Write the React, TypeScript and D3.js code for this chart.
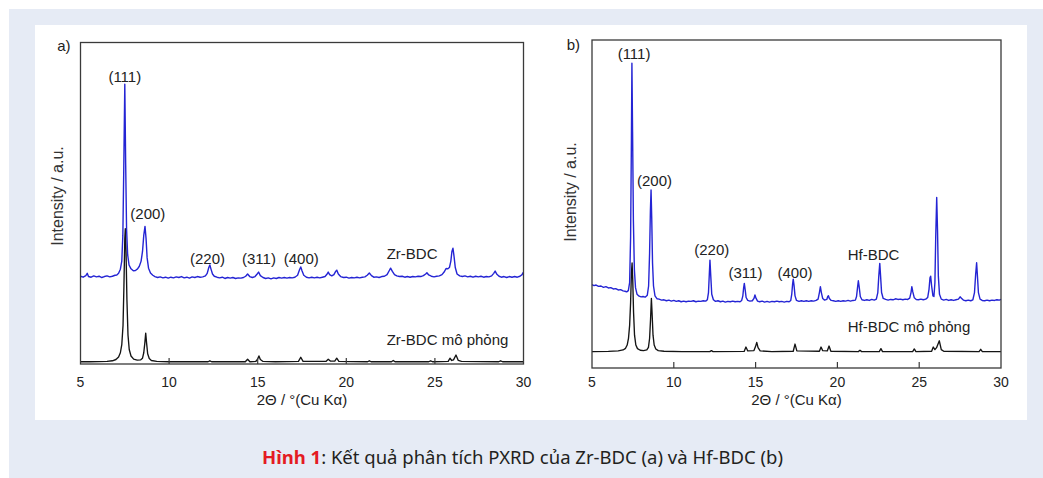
import React from "react";
import * as d3 from "d3";

// ---------- DATA ----------
const xTicks = [5, 10, 15, 20, 25, 30];

// Zr-BDC experimental (2θ, intensity a.u.)
const zrExp: [number, number][] = [
  [5.0, 27.3], [5.15, 27.0], [5.3, 27.5], [5.38, 28.2], [5.45, 27.2], [5.6, 27.0], [5.75, 27.4], [5.9, 27.1],
  [6.05, 27.3], [6.2, 26.9], [6.35, 27.2], [6.5, 27.4], [6.65, 27.1], [6.8, 27.3], [6.95, 27.6], [7.05, 27.7],
  [7.15, 28.2], [7.25, 29.5], [7.33, 32], [7.39, 40], [7.44, 60], [7.5, 87], [7.55, 62], [7.6, 42],
  [7.66, 34], [7.74, 30.8], [7.85, 29.6], [7.98, 29.0], [8.1, 29.1], [8.22, 29.6], [8.32, 30.4], [8.42, 32],
  [8.5, 35], [8.57, 40], [8.64, 42.8], [8.7, 39], [8.76, 33], [8.84, 29.8], [8.95, 28.3], [9.08, 27.6],
  [9.2, 27.2], [9.35, 26.9], [9.5, 27.1], [9.65, 26.8], [9.8, 27.0], [9.95, 26.7], [10.1, 27.0], [10.25, 26.8],
  [10.4, 27.1], [10.55, 26.9], [10.7, 27.2], [10.85, 26.8], [11.0, 27.0], [11.15, 26.7], [11.3, 27.1], [11.45, 26.9],
  [11.6, 27.2], [11.75, 27.0], [11.9, 27.1], [12.05, 27.4], [12.15, 28.2], [12.24, 30.0], [12.3, 30.8], [12.36, 29.6],
  [12.45, 28.0], [12.55, 27.3], [12.7, 27.0], [12.85, 26.8], [13.0, 27.0], [13.15, 26.6], [13.3, 26.9], [13.45, 26.7],
  [13.6, 26.9], [13.75, 26.6], [13.9, 26.8], [14.05, 26.7], [14.2, 26.9], [14.32, 27.3], [14.43, 28.0], [14.55, 27.2],
  [14.7, 26.9], [14.85, 27.2], [14.97, 28.0], [15.05, 28.6], [15.15, 27.5], [15.3, 26.9], [15.45, 26.6], [15.6, 26.8],
  [15.75, 26.5], [15.9, 26.8], [16.05, 26.6], [16.2, 26.9], [16.35, 26.7], [16.5, 26.9], [16.65, 26.7], [16.8, 26.9],
  [16.95, 26.8], [17.1, 27.0], [17.25, 27.6], [17.36, 29.3], [17.43, 30.2], [17.5, 29.0], [17.6, 27.6], [17.75, 27.0],
  [17.9, 26.8], [18.05, 27.0], [18.2, 26.8], [18.35, 27.0], [18.5, 26.8], [18.65, 27.0], [18.8, 27.2], [18.92, 28.0],
  [18.98, 28.6], [19.06, 27.8], [19.18, 27.4], [19.3, 27.8], [19.4, 28.8], [19.46, 29.2], [19.55, 28.0], [19.68, 27.2],
  [19.85, 26.9], [20.0, 27.0], [20.15, 26.7], [20.3, 26.9], [20.45, 26.8], [20.6, 27.0], [20.75, 26.8], [20.9, 27.0],
  [21.05, 27.1], [21.18, 27.6], [21.3, 28.3], [21.42, 27.5], [21.55, 27.0], [21.7, 27.1], [21.85, 26.9], [22.0, 27.2],
  [22.15, 27.3], [22.3, 27.8], [22.42, 29.0], [22.5, 29.8], [22.6, 28.8], [22.72, 27.8], [22.85, 27.4], [23.0, 27.2],
  [23.15, 27.3], [23.3, 27.0], [23.45, 27.2], [23.6, 27.0], [23.75, 27.2], [23.9, 27.1], [24.05, 27.3], [24.2, 27.2],
  [24.35, 27.5], [24.48, 28.0], [24.55, 28.4], [24.65, 27.7], [24.8, 27.3], [24.95, 27.1], [25.1, 27.3], [25.25, 27.4],
  [25.4, 27.8], [25.52, 28.6], [25.63, 29.7], [25.72, 29.6], [25.82, 30.0], [25.9, 32.0], [25.96, 35.0], [26.02, 36.0],
  [26.08, 33.5], [26.15, 30.0], [26.25, 28.0], [26.4, 27.4], [26.55, 27.2], [26.7, 27.4], [26.85, 27.1], [27.0, 27.3],
  [27.15, 27.0], [27.3, 27.3], [27.45, 27.1], [27.6, 27.3], [27.75, 27.0], [27.9, 27.2], [28.05, 27.1], [28.2, 27.4],
  [28.32, 28.2], [28.4, 28.9], [28.5, 27.9], [28.62, 27.3], [28.75, 27.0], [28.9, 27.2], [29.05, 26.9], [29.2, 27.2],
  [29.35, 27.0], [29.5, 27.2], [29.65, 27.0], [29.8, 27.3], [29.92, 27.8], [29.97, 28.4], [30.0, 28.0],
];

// Zr-BDC simulated
const zrSim: [number, number][] = [
  [5.0, 0.7], [5.5, 0.7], [6.0, 0.75], [6.5, 0.8], [6.8, 1.0], [7.0, 1.4], [7.15, 2.2], [7.25, 3.5],
  [7.33, 6.0], [7.4, 12.0], [7.45, 24.0], [7.5, 39.0], [7.53, 42.1], [7.57, 35.0], [7.62, 20.0], [7.68, 9.0],
  [7.75, 4.5], [7.85, 2.5], [8.0, 1.5], [8.2, 1.2], [8.4, 1.3], [8.5, 1.8], [8.57, 3.5], [8.63, 6.5],
  [8.68, 9.6], [8.73, 6.5], [8.79, 3.2], [8.88, 1.7], [9.0, 1.1], [9.3, 0.8], [10.0, 0.7], [11.0, 0.7],
  [12.2, 0.7], [12.3, 1.0], [12.4, 0.7], [14.3, 0.7], [14.43, 1.5], [14.56, 0.7], [14.9, 0.8], [15.0, 1.6],
  [15.07, 2.5], [15.15, 1.4], [15.3, 0.8], [16.0, 0.7], [17.3, 0.8], [17.43, 2.1], [17.56, 0.8], [18.85, 0.8],
  [18.98, 1.5], [19.1, 0.9], [19.35, 0.9], [19.46, 1.8], [19.58, 0.8], [21.2, 0.7], [21.3, 1.0], [21.4, 0.7],
  [22.55, 0.7], [22.65, 1.1], [22.75, 0.7], [24.65, 0.7], [24.76, 1.0], [24.87, 0.7], [25.75, 0.8], [25.85, 1.8],
  [25.95, 1.1], [26.05, 1.3], [26.19, 2.8], [26.32, 1.1], [26.5, 0.8], [28.6, 0.7], [28.71, 1.0], [28.82, 0.7],
  [30.0, 0.7],
];

// Hf-BDC experimental
const hfExp: [number, number][] = [
  [5.0, 25.4], [5.12, 25.1], [5.25, 25.3], [5.4, 24.9], [5.55, 25.0], [5.7, 24.6], [5.85, 24.8], [6.0, 24.4],
  [6.15, 24.5], [6.3, 24.1], [6.45, 24.2], [6.6, 23.8], [6.75, 23.9], [6.9, 23.5], [7.02, 23.4], [7.12, 23.2],
  [7.22, 23.6], [7.3, 26], [7.36, 40], [7.41, 70], [7.44, 92.9], [7.48, 72], [7.53, 45], [7.59, 30],
  [7.66, 24.5], [7.75, 22.5], [7.88, 21.9], [8.0, 21.7], [8.12, 21.8], [8.25, 21.6], [8.38, 22.2], [8.46, 25],
  [8.52, 35], [8.57, 48], [8.61, 54.3], [8.65, 46], [8.7, 32], [8.76, 25], [8.85, 22], [8.98, 21.1],
  [9.1, 21.0], [9.25, 20.7], [9.4, 20.8], [9.55, 20.5], [9.7, 20.7], [9.85, 20.4], [10.0, 20.6], [10.15, 20.3],
  [10.3, 20.5], [10.45, 20.2], [10.6, 20.4], [10.75, 20.2], [10.9, 20.4], [11.05, 20.3], [11.2, 20.5], [11.35, 20.2],
  [11.5, 20.4], [11.65, 20.3], [11.8, 20.5], [11.95, 20.4], [12.05, 20.8], [12.12, 23], [12.17, 28.5], [12.21, 32.9],
  [12.26, 28], [12.32, 22.5], [12.42, 20.8], [12.55, 20.3], [12.7, 20.5], [12.85, 20.2], [13.0, 20.4], [13.15, 20.1],
  [13.3, 20.3], [13.45, 20.2], [13.6, 20.4], [13.75, 20.2], [13.9, 20.3], [14.05, 20.2], [14.15, 20.6], [14.22, 22.0],
  [14.27, 24.5], [14.31, 25.8], [14.36, 24.0], [14.42, 21.5], [14.52, 20.6], [14.65, 20.4], [14.8, 20.5], [14.9, 21.2],
  [14.96, 22.3], [15.03, 21.2], [15.12, 20.4], [15.25, 20.2], [15.4, 20.4], [15.55, 20.1], [15.7, 20.3], [15.85, 20.1],
  [16.0, 20.3], [16.15, 20.2], [16.3, 20.4], [16.45, 20.2], [16.6, 20.3], [16.75, 20.1], [16.9, 20.3], [17.05, 20.2],
  [17.15, 20.6], [17.21, 22.5], [17.26, 25.5], [17.3, 27.1], [17.35, 25.2], [17.41, 22.0], [17.5, 20.6], [17.65, 20.3],
  [17.8, 20.5], [17.95, 20.3], [18.1, 20.5], [18.25, 20.3], [18.4, 20.5], [18.55, 20.4], [18.7, 20.6], [18.82, 21.0],
  [18.9, 23.0], [18.96, 24.8], [19.02, 23.0], [19.1, 21.2], [19.22, 20.7], [19.35, 20.9], [19.41, 21.8], [19.45, 22.0],
  [19.51, 21.2], [19.62, 20.6], [19.75, 20.5], [19.9, 20.3], [20.05, 20.5], [20.2, 20.3], [20.35, 20.5], [20.5, 20.4],
  [20.65, 20.6], [20.8, 20.4], [20.95, 20.6], [21.1, 20.7], [21.17, 21.8], [21.23, 24.5], [21.28, 26.6], [21.33, 24.8],
  [21.4, 21.8], [21.5, 20.8], [21.65, 20.6], [21.8, 20.8], [21.95, 20.6], [22.1, 20.9], [22.25, 20.7], [22.38, 21.0],
  [22.47, 23.0], [22.53, 28.0], [22.59, 31.9], [22.64, 28.0], [22.7, 23.0], [22.8, 21.2], [22.95, 20.9], [23.1, 20.7],
  [23.25, 20.9], [23.4, 20.8], [23.55, 21.1], [23.7, 20.9], [23.85, 21.0], [24.0, 20.8], [24.15, 21.0], [24.3, 20.9],
  [24.42, 21.3], [24.5, 23.0], [24.55, 24.8], [24.61, 23.2], [24.7, 21.4], [24.82, 20.9], [24.95, 20.8], [25.1, 21.0],
  [25.25, 20.8], [25.4, 21.0], [25.52, 21.5], [25.6, 24.0], [25.66, 27.5], [25.7, 28.0], [25.76, 25.0], [25.84, 22.0],
  [25.9, 21.8], [25.96, 26.0], [26.01, 40], [26.07, 52.0], [26.12, 42], [26.17, 28], [26.24, 22.5], [26.35, 21.0],
  [26.5, 20.7], [26.65, 20.9], [26.8, 20.6], [26.95, 20.8], [27.1, 20.6], [27.25, 20.8], [27.4, 21.0], [27.5, 21.7],
  [27.58, 21.3], [27.7, 20.7], [27.85, 20.5], [28.0, 20.7], [28.15, 20.5], [28.28, 20.8], [28.38, 23.0], [28.45, 28.5],
  [28.51, 32.1], [28.56, 28.0], [28.62, 23.0], [28.72, 21.0], [28.85, 20.6], [29.0, 20.5], [29.15, 20.7], [29.3, 20.5],
  [29.45, 20.7], [29.6, 20.6], [29.75, 20.8], [29.9, 20.7], [30.0, 20.9],
];

// Hf-BDC simulated
const hfSim: [number, number][] = [
  [5.0, 5.0], [6.0, 5.05], [6.6, 5.2], [6.9, 5.5], [7.05, 6.0], [7.15, 7.0], [7.23, 9.0], [7.3, 13],
  [7.36, 20], [7.41, 29], [7.45, 32], [7.49, 27], [7.54, 17], [7.6, 10], [7.68, 7.0], [7.78, 5.9],
  [7.95, 5.4], [8.15, 5.3], [8.35, 5.5], [8.45, 6.3], [8.52, 9], [8.58, 15], [8.63, 21.2], [8.67, 17],
  [8.73, 10], [8.8, 7], [8.9, 5.8], [9.05, 5.3], [9.4, 5.1], [10.5, 5.0], [12.2, 5.0], [12.3, 5.3],
  [12.4, 5.0], [14.3, 5.05], [14.41, 6.4], [14.52, 5.2], [14.9, 5.3], [15.0, 6.6], [15.07, 7.8], [15.15, 6.2],
  [15.28, 5.2], [16.0, 5.0], [17.3, 5.1], [17.41, 7.3], [17.52, 5.2], [18.9, 5.1], [19.0, 6.4], [19.1, 5.3],
  [19.38, 5.2], [19.49, 6.7], [19.6, 5.1], [21.28, 5.0], [21.38, 5.4], [21.48, 5.0], [22.56, 5.0], [22.66, 5.9],
  [22.76, 5.0], [24.6, 5.0], [24.7, 5.8], [24.8, 5.0], [25.76, 5.1], [25.86, 6.4], [25.96, 5.6], [26.06, 6.2],
  [26.23, 8.3], [26.35, 5.6], [26.5, 5.1], [28.66, 5.0], [28.76, 5.7], [28.86, 5.0], [30.0, 5.0],
];

// annotations: [text, 2θ, intensity]
const zrPeakLabels: [string, number, number][] = [
  ["(111)", 7.5, 87.8], ["(200)", 8.8, 45.0], ["(220)", 12.17, 31.0], ["(311)", 15.07, 31.0], ["(400)", 17.46, 31.0],
];
const hfPeakLabels: [string, number, number][] = [
  ["(111)", 7.57, 94.2], ["(200)", 8.82, 55.6], ["(220)", 12.32, 34.5], ["(311)", 14.38, 27.5], ["(400)", 17.41, 27.5],
];
const zrNames: [string, number, number][] = [["Zr-BDC", 22.28, 32.6], ["Zr-BDC mô phỏng", 22.28, 6.0]];
const hfNames: [string, number, number][] = [["Hf-BDC", 20.63, 33.0], ["Hf-BDC mô phỏng", 20.63, 10.9]];

const xTitle = "2Θ / °(Cu Kα)";
const yTitle = "Intensity / a.u.";
const captionBold = "Hình 1";
const captionRest = ": Kết quả phân tích PXRD của Zr-BDC (a) và Hf-BDC (b)";

// ---------- DRAWING ----------
const FONT = "'Liberation Sans', Arial, Helvetica, sans-serif";
const BLUE = "#2424d4";
const BLACK = "#141414";

type Frame = { x0: number; x1: number; y0: number; y1: number };

function Panel(props: {
  frame: Frame;
  tag: string;
  tagPos: [number, number];
  yTitlePos: [number, number];
  exp: [number, number][];
  sim: [number, number][];
  peakLabels: [string, number, number][];
  names: [string, number, number][];
}) {
  const { frame, tag, tagPos, yTitlePos, exp, sim, peakLabels, names } = props;
  const x = d3.scaleLinear().domain([5, 30]).range([frame.x0, frame.x1]);
  const y = d3.scaleLinear().domain([0, 100]).range([frame.y1, frame.y0]);
  const line = d3
    .line<[number, number]>()
    .x((d) => x(d[0]))
    .y((d) => y(d[1]));
  const cx = (frame.x0 + frame.x1) / 2;
  return (
    <g fontFamily={FONT}>
      <path d={line(sim) || ""} fill="none" stroke={BLACK} strokeWidth={1.35} strokeLinejoin="round" />
      <path d={line(exp) || ""} fill="none" stroke={BLUE} strokeWidth={1.4} strokeLinejoin="round" />
      <rect
        x={frame.x0}
        y={frame.y0}
        width={frame.x1 - frame.x0}
        height={frame.y1 - frame.y0}
        fill="none"
        stroke="#3a3a3a"
        strokeWidth={1.3}
      />
      {xTicks.map((t) => (
        <g key={t}>
          {t !== 5 && t !== 30 && (
            <line x1={x(t)} x2={x(t)} y1={frame.y1} y2={frame.y1 - 6} stroke="#3a3a3a" strokeWidth={1.2} />
          )}
          <text x={x(t)} y={387} textAnchor="middle" fontSize={14} fill="#222">
            {t}
          </text>
        </g>
      ))}
      <text x={cx} y={405} textAnchor="middle" fontSize={15} fill="#222">
        {xTitle}
      </text>
      <text
        transform={`translate(${yTitlePos[0]},${yTitlePos[1]}) rotate(-90)`}
        textAnchor="middle"
        dominantBaseline="central"
        fontSize={16}
        fill="#333"
      >
        {yTitle}
      </text>
      <text x={tagPos[0]} y={tagPos[1]} textAnchor="end" fontSize={15} fill="#222">
        {tag}
      </text>
      {peakLabels.map(([t, px, py]) => (
        <text key={t} x={x(px)} y={y(py)} textAnchor="middle" fontSize={15} fill="#222">
          {t}
        </text>
      ))}
      {names.map(([t, px, py]) => (
        <text key={t} x={x(px)} y={y(py)} textAnchor="start" fontSize={15} fill="#222">
          {t}
        </text>
      ))}
    </g>
  );
}

export default function App() {
  return (
    <svg
      width={1043}
      height={478}
      style={{ position: "absolute", left: 0, top: 0, display: "block" }}
    >
      <rect x={0} y={0} width={1043} height={478} fill="#ffffff" />
      <rect x={9} y={9} width={1034} height={469} fill="#e6ebf5" />
      <rect x={35} y={25} width={992} height={395} fill="#ffffff" />
      <Panel
        frame={{ x0: 80.5, x1: 523.5, y0: 42.5, y1: 364 }}
        tag="a)"
        tagPos={[70.5, 51]}
        yTitlePos={[57, 196]}
        exp={zrExp}
        sim={zrSim}
        peakLabels={zrPeakLabels}
        names={zrNames}
      />
      <Panel
        frame={{ x0: 592, x1: 1001, y0: 40, y1: 368 }}
        tag="b)"
        tagPos={[580, 50]}
        yTitlePos={[570, 192]}
        exp={hfExp}
        sim={hfSim}
        peakLabels={hfPeakLabels}
        names={hfNames}
      />
      <text
        x={522.5}
        y={464}
        textAnchor="middle"
        fontSize={17.5}
        textLength={521}
        lengthAdjust="spacingAndGlyphs"
        fontFamily="'Noto Sans', 'Open Sans', sans-serif"
        fill="#231f20"
      >
        <tspan fill="#e41b23" fontWeight="bold">
          {captionBold}
        </tspan>
        <tspan>{captionRest}</tspan>
      </text>
    </svg>
  );
}
